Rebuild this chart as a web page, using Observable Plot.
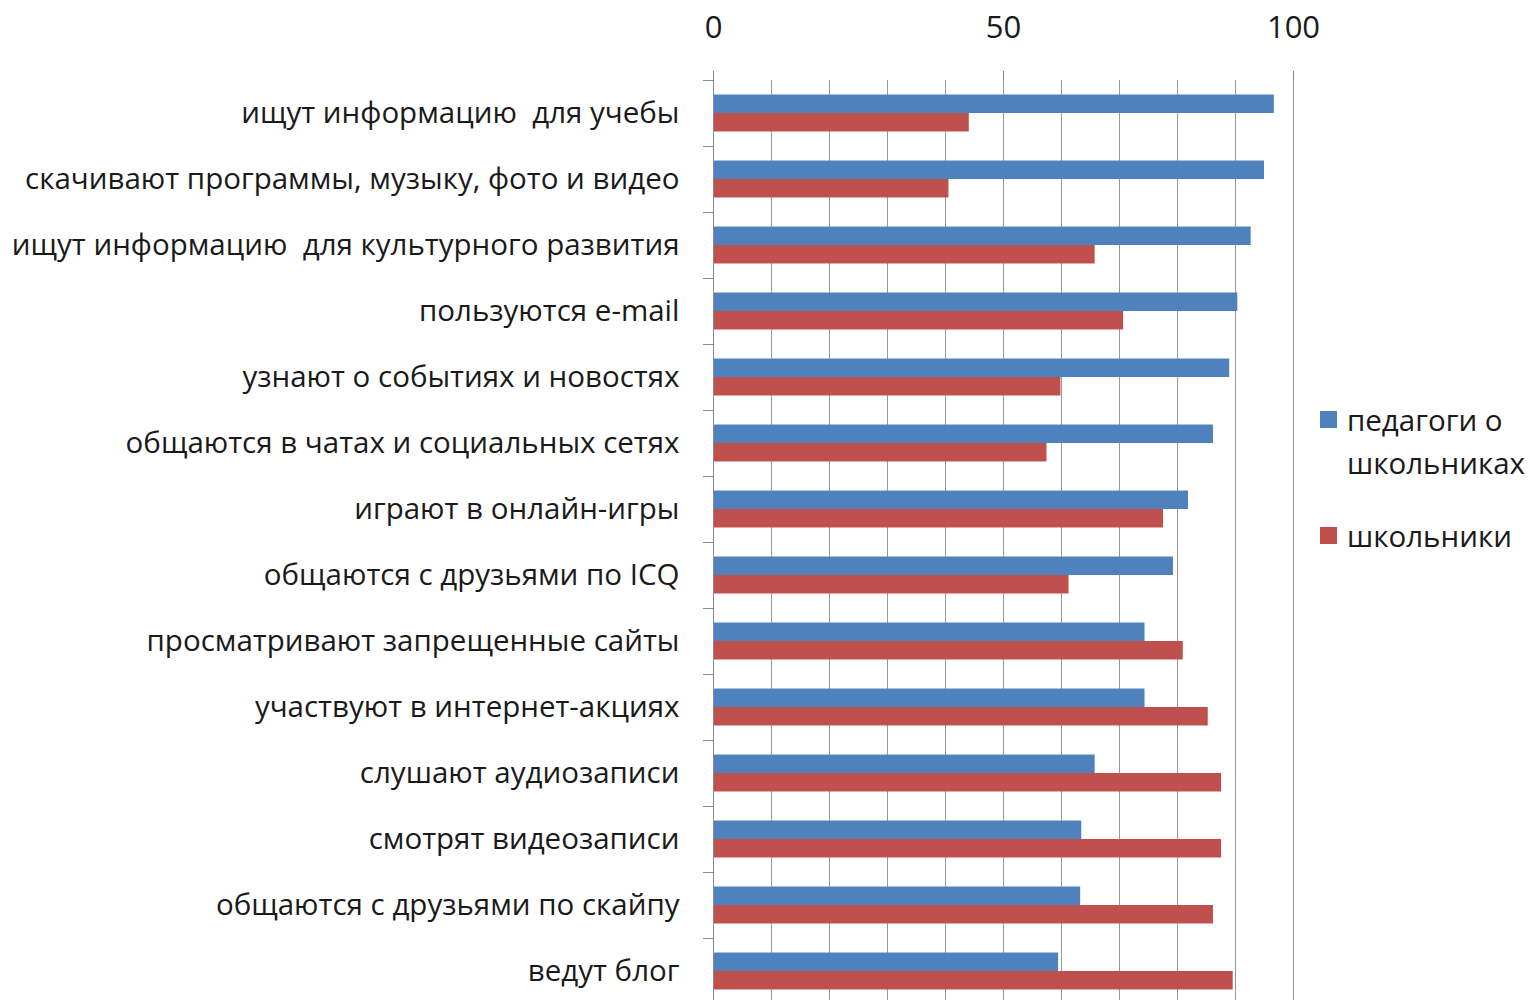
<!DOCTYPE html>
<html>
<head>
<meta charset="utf-8">
<script src="https://cdn.jsdelivr.net/npm/d3@7"></script>
<script src="https://cdn.jsdelivr.net/npm/@observablehq/plot@0.6"></script>
<style>
  body { margin: 0; background: #fff; font-family: "Open Sans", sans-serif; }
  #wrap { position: relative; width: 1530px; height: 1000px; overflow: hidden; }
  #legend { position: absolute; left: 1320px; top: 398px; font-size: 29.5px; color: #1a1a1a; line-height: 43px; }
  .item { display: flex; align-items: flex-start; }
  .sw { width: 17px; height: 17px; margin-top: 13px; margin-right: 10px; flex: none; }
</style>
</head>
<body>
<div id="wrap">
  <div id="chart"></div>
  <div id="legend"></div>
</div>
<script>
const categories = [
  "ищут информацию  для учебы",
  "скачивают программы, музыку, фото и видео",
  "ищут информацию  для культурного развития",
  "пользуются e-mail",
  "узнают о событиях и новостях",
  "общаются в чатах и социальных сетях",
  "играют в онлайн-игры",
  "общаются с друзьями по ICQ",
  "просматривают запрещенные сайты",
  "участвуют в интернет-акциях",
  "слушают аудиозаписи",
  "смотрят видеозаписи",
  "общаются с друзьями по скайпу",
  "ведут блог"
];
const seriesNames = ["педагоги о школьниках", "школьники"];
const seriesColors = ["#4f81bd", "#c0504d"];
const teachers = [96.7, 95.0, 92.7, 90.4, 89.0, 86.2, 81.9, 79.3, 74.4, 74.4, 65.8, 63.5, 63.3, 59.5];
const students = [44.1, 40.6, 65.8, 70.7, 59.9, 57.5, 77.6, 61.3, 81.0, 85.3, 87.6, 87.6, 86.2, 89.6];
const xTicks = [0, 50, 100];
const gridTicks = [0, 10, 20, 30, 40, 50, 60, 70, 80, 90, 100];

const teacherData = categories.map((c, i) => ({category: c, value: teachers[i]}));
const studentData = categories.map((c, i) => ({category: c, value: students[i]}));

const half = 66 * 0.56 / 2;

const chart = Plot.plot({
  width: 1530,
  height: 1010,
  marginTop: 80,
  marginBottom: 6,
  marginLeft: 713,
  marginRight: 237,
  style: {fontFamily: "Open Sans, sans-serif", color: "#1a1a1a", background: "#fff"},
  x: {domain: [0, 100]},
  y: {domain: categories, paddingInner: 0.44, paddingOuter: 0.22, round: false},
  marks: [
    Plot.gridX(gridTicks, {stroke: "#9a9a9a", strokeOpacity: 1, strokeWidth: 1}),
    Plot.barX(teacherData, {x: "value", y: "category", fill: seriesColors[0], insetBottom: half}),
    Plot.barX(studentData, {x: "value", y: "category", fill: seriesColors[1], insetTop: half}),
    Plot.ruleX([0], {stroke: "#8a8a8a"}),
    Plot.axisX(xTicks, {anchor: "top", tickSize: 10, tickPadding: 33, fontSize: 31, stroke: "#8a8a8a", line: true, label: null}),
    Plot.axisY({anchor: "left", tickSize: 0, tickPadding: 34, fontSize: 29.5, label: null}),
    Plot.axisY({anchor: "left", tickSize: 10, dy: -33, tickFormat: () => "", stroke: "#8a8a8a", label: null})
  ]
});
document.getElementById("chart").appendChild(chart);

const legend = document.getElementById("legend");
legend.innerHTML = `
  <div class="item"><div class="sw" style="background:${seriesColors[0]}"></div><div>педагоги о<br>школьниках</div></div>
  <div class="item" style="margin-top:30px"><div class="sw" style="background:${seriesColors[1]}"></div><div>${seriesNames[1]}</div></div>
`;
</script>
</body>
</html>
